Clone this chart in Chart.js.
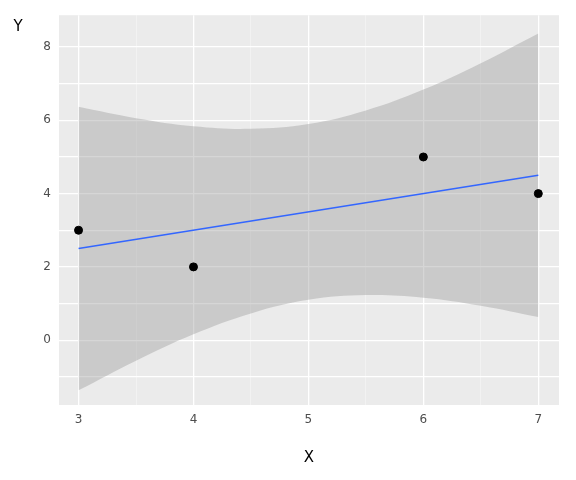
<!DOCTYPE html>
<html><head><meta charset="utf-8">
<script src="https://cdn.jsdelivr.net/npm/chart.js@4"></script>
<style>body{margin:0;background:#fff}#wrap{width:576px;height:480px}</style>
</head><body><div id="wrap"><canvas id="c"></canvas></div>
<script>
const pointsX = [3, 4, 6, 7];
const pointsY = [3, 2, 5, 4];
const fitX = [3, 7];
const fitY = [2.5, 4.5];
const bandX = [3, 3.5, 4, 4.5, 5, 5.5, 6, 6.5, 7];
const bandUpper = [6.37, 6.06, 5.84, 5.77, 5.9, 6.27, 6.84, 7.56, 8.37];
const bandLower = [-1.37, -0.56, 0.16, 0.73, 1.1, 1.23, 1.16, 0.94, 0.63];
const xLabels = [3, 4, 5, 6, 7];
const yLabels = [0, 2, 4, 6, 8];

const zip = (xs, ys) => xs.map((x, i) => ({ x: x, y: ys[i] }));

const panel = {
  id: 'panel',
  beforeDraw(chart) {
    const { ctx, chartArea: a } = chart;
    ctx.save();
    ctx.fillStyle = '#EBEBEB';
    ctx.fillRect(a.left, a.top, a.right - a.left, a.bottom - a.top);
    ctx.restore();
  },
  afterDraw(chart) {
    const { ctx } = chart;
    ctx.save();
    ctx.fillStyle = '#000';
    ctx.font = '15px "DejaVu Sans"';
    ctx.textAlign = 'center';
    ctx.fillText('Y', 18, 31);
    ctx.fillText('X', 309, 462);
    ctx.restore();
  }
};

const grid = {
  color: ctx => (ctx.tick && Number.isInteger(ctx.tick.value)) ? '#FFFFFF' : 'rgba(255,255,255,0.6)',
  lineWidth: ctx => (ctx.tick && Number.isInteger(ctx.tick.value)) ? 1.3 : 0.6,
  drawTicks: false
};

new Chart(document.getElementById('c'), {
  type: 'scatter',
  data: {
    datasets: [
      { data: zip(bandX, bandUpper), showLine: true, pointRadius: 0, borderWidth: 0, tension: 0.4, fill: false, order: 3 },
      { data: zip(bandX, bandLower), showLine: true, pointRadius: 0, borderWidth: 0, tension: 0.4, fill: '-1', backgroundColor: 'rgba(153,153,153,0.4)', order: 3 },
      { data: zip(fitX, fitY), showLine: true, pointRadius: 0, borderColor: '#3366FF', borderWidth: 1.5, order: 2 },
      { data: zip(pointsX, pointsY), pointRadius: 4, backgroundColor: '#000', borderColor: '#000', order: 1 }
    ]
  },
  options: {
    responsive: true, maintainAspectRatio: false, animation: false,
    layout: { padding: { top: 14, right: 17, left: 0, bottom: 0 } },
    plugins: { legend: { display: false }, tooltip: { enabled: false } },
    scales: {
      x: {
        type: 'linear', min: 2.83, max: 7.18,
        afterFit: s => { s.height = 75; },
        afterBuildTicks: s => { s.ticks = []; for (let v = 3; v <= 7; v += 0.5) s.ticks.push({ value: v }); },
        ticks: { color: '#4D4D4D', font: { size: 12, family: 'DejaVu Sans' }, padding: 8,
          callback: v => xLabels.includes(v) ? String(v) : '' },
        grid: grid, border: { display: false }
      },
      y: {
        type: 'linear', min: -1.77, max: 8.87,
        afterFit: s => { s.width = 59; },
        afterBuildTicks: s => { s.ticks = []; for (let v = -1; v <= 8; v += 1) s.ticks.push({ value: v }); },
        ticks: { color: '#4D4D4D', font: { size: 12, family: 'DejaVu Sans' }, padding: 8,
          callback: v => yLabels.includes(v) ? String(v) : '' },
        grid: grid, border: { display: false }
      }
    }
  },
  plugins: [panel]
});
</script></body></html>
